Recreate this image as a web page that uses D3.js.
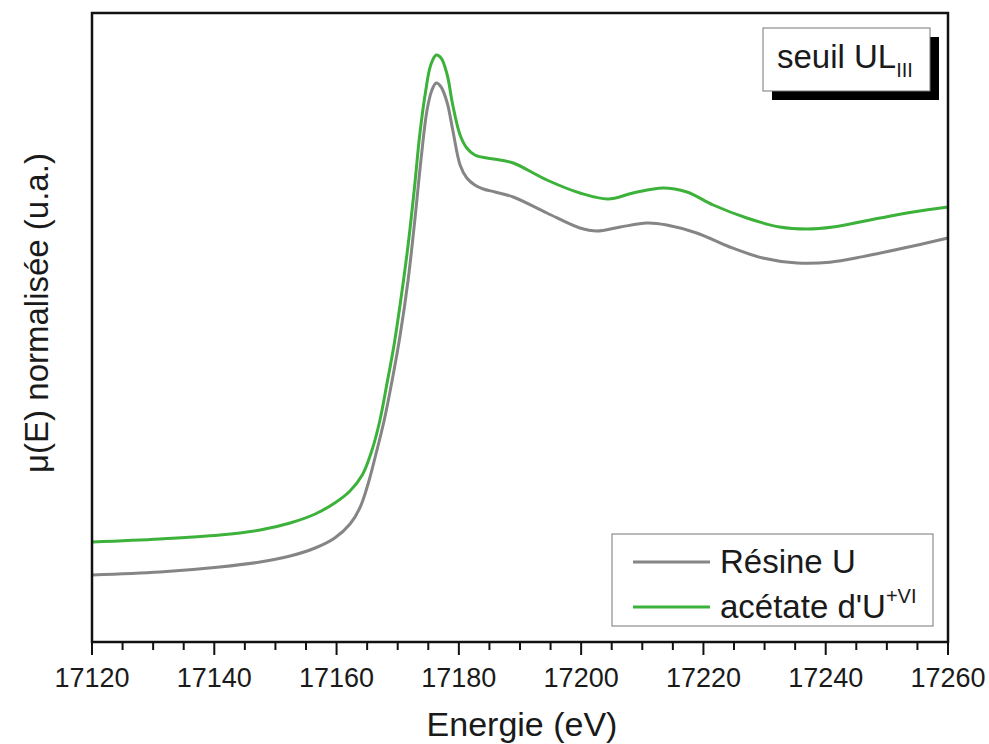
<!DOCTYPE html>
<html><head><meta charset="utf-8">
<script src="https://cdn.jsdelivr.net/npm/d3@7"></script>
<style>
body{margin:0;background:#fff;}
text{font-family:"Liberation Sans",Arial,sans-serif;fill:#1a1a1a;}
</style></head>
<body><svg id="c" width="989" height="744"></svg>
<script>
// Energy (eV) and normalised absorption
const resineE = [17120,17131.1,17140.9,17147.5,17152.4,17156.5,17159.7,17162.2,17163.8,17165.1,17166.4,17167.8,17169.1,17170.4,17171.7,17172.8,17173.8,17174.8,17175.6,17176.3,17177.1,17178.1,17179.0,17180.2,17181.3,17182.6,17184.0,17185.9,17188.9,17194.4,17199.8,17202.6,17206.4,17210.8,17214.0,17218.9,17224.3,17229.7,17235.3,17240.7,17246.1,17254.3,17260];
const resineMu = [0.000,0.0075,0.02,0.0325,0.0475,0.0675,0.0925,0.1275,0.1675,0.225,0.30,0.3875,0.4875,0.60,0.7375,0.8875,1.0375,1.1625,1.2125,1.23,1.22,1.18,1.1125,1.025,0.9925,0.975,0.965,0.9575,0.945,0.905,0.8675,0.86,0.87,0.88,0.875,0.855,0.82,0.7925,0.78,0.782,0.796,0.8225,0.8425];
const acetateE = [17120,17131.1,17140.9,17147.5,17152.4,17156.5,17159.7,17162.2,17164.2,17165.8,17167.1,17168.2,17169.4,17170.5,17171.7,17172.7,17173.6,17174.6,17175.4,17176.3,17177.1,17178.1,17179.0,17180.2,17181.3,17182.6,17184.6,17186.7,17188.9,17194.4,17199.8,17204.4,17208.5,17213.4,17217.3,17221.6,17227.1,17232.5,17236.9,17241.2,17248.9,17254.3,17260];
const acetateMu = [0.0825,0.09,0.10,0.1125,0.13,0.1525,0.18,0.21,0.25,0.3125,0.3875,0.475,0.575,0.6875,0.825,0.9625,1.10,1.2125,1.275,1.30,1.2925,1.25,1.175,1.10,1.0675,1.05,1.0425,1.0375,1.03,0.9875,0.955,0.94,0.955,0.9675,0.9575,0.925,0.8925,0.87,0.865,0.87,0.8925,0.9075,0.92];
const xTicks = [17120,17140,17160,17180,17200,17220,17240,17260];
const seriesNames = ["Résine U","acétate d'U"];
const seriesColors = ["#858585","#3cb23a"];

const svg = d3.select("#c");
const L=92, R=948, T=13, B=642;
const x = d3.scaleLinear().domain([17120,17260]).range([L,R]);
const y = d3.scaleLinear().domain([-0.1675,1.405]).range([B,T]);

// minor + major ticks
const minor = d3.range(17120,17261,5);
svg.append("g").selectAll("line").data(minor).join("line")
  .attr("x1",d=>x(d)).attr("x2",d=>x(d))
  .attr("y1",B).attr("y2",d=> (d%20===0)? B+13 : B+8)
  .attr("stroke","#111").attr("stroke-width",2);

svg.append("g").selectAll("text").data(xTicks).join("text")
  .attr("x",d=>x(d)).attr("y",687).attr("text-anchor","middle")
  .attr("font-size",27).text(d=>d);

// curves
const line = d3.line().x(d=>x(d[0])).y(d=>y(d[1])).curve(d3.curveCatmullRom.alpha(0.5));
const resine = resineE.map((e,i)=>[e,resineMu[i]]);
const acetate = acetateE.map((e,i)=>[e,acetateMu[i]]);
svg.append("path").datum(resine).attr("d",line).attr("fill","none")
  .attr("stroke",seriesColors[0]).attr("stroke-width",3);
svg.append("path").datum(acetate).attr("d",line).attr("fill","none")
  .attr("stroke",seriesColors[1]).attr("stroke-width",3);

// frame
svg.append("rect").attr("x",L).attr("y",T).attr("width",R-L).attr("height",B-T)
  .attr("fill","none").attr("stroke","#111").attr("stroke-width",2.5);

// axis titles
svg.append("text").attr("x",522).attr("y",736).attr("text-anchor","middle")
  .attr("font-size",34).text("Energie (eV)");
svg.append("text").attr("transform","translate(48,313) rotate(-90)")
  .attr("text-anchor","middle").attr("font-size",33).text("μ(E) normalisée (u.a.)");

// label box with shadow
svg.append("rect").attr("x",772).attr("y",37).attr("width",167).attr("height",63).attr("fill","#000");
svg.append("rect").attr("x",763).attr("y",28).attr("width",167).attr("height",63)
  .attr("fill","#fff").attr("stroke","#777").attr("stroke-width",1);
const lt = svg.append("text").attr("x",777).attr("y",68).attr("font-size",33);
lt.append("tspan").text("seuil UL");
lt.append("tspan").attr("font-size",20).attr("dy",9).text("III");

// legend
svg.append("rect").attr("x",612).attr("y",534).attr("width",321).attr("height",92)
  .attr("fill","#fff").attr("stroke","#777").attr("stroke-width",1);
const legY=[562,607];
seriesNames.forEach((n,i)=>{
  svg.append("line").attr("x1",633).attr("x2",710).attr("y1",legY[i]).attr("y2",legY[i])
    .attr("stroke",seriesColors[i]).attr("stroke-width",3);
  const t = svg.append("text").attr("x",720).attr("y",legY[i]+11).attr("font-size",33);
  t.append("tspan").text(n);
  if(i===1){ t.append("tspan").attr("font-size",20).attr("dy",-15).text("+VI"); }
});
</script></body></html>
